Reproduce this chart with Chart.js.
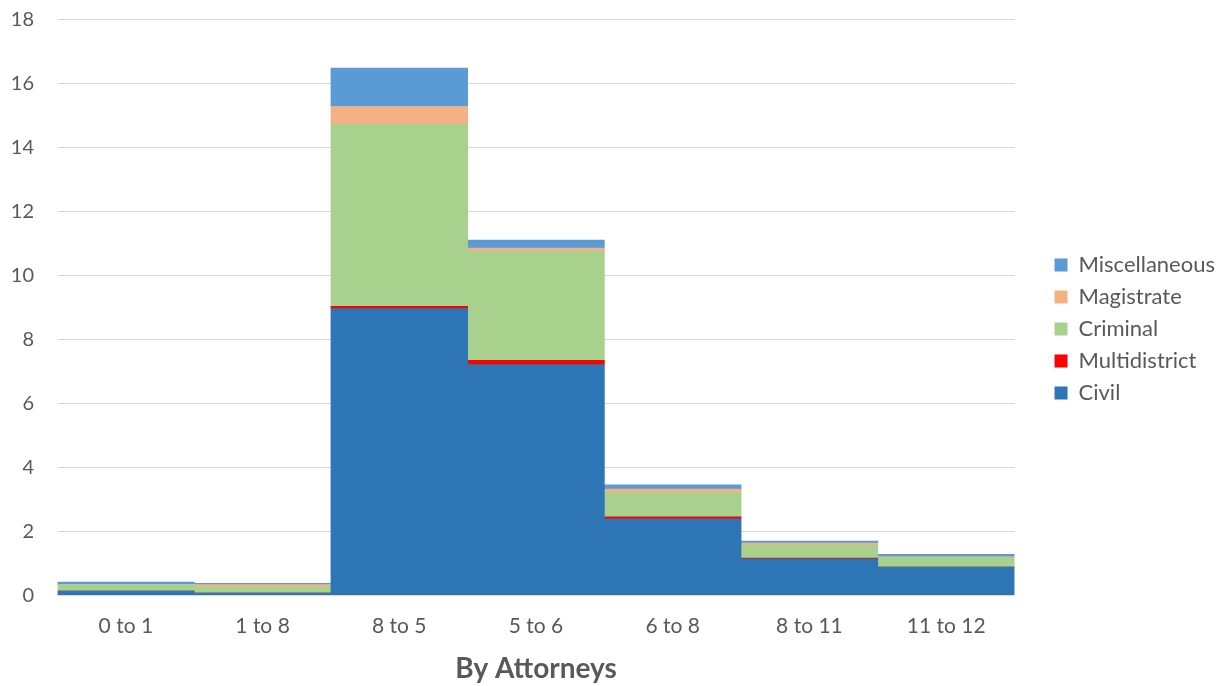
<!DOCTYPE html>
<html>
<head>
<meta charset="utf-8">
<script src="https://cdn.jsdelivr.net/npm/chart.js@4/dist/chart.umd.min.js"></script>
<style>
html,body{margin:0;padding:0;background:#fff;}
#wrap{width:1225px;height:686px;position:relative;}
</style>
</head>
<body>
<div id="wrap"><canvas id="c" width="1225" height="686"></canvas></div>
<script>
const categories = ["0 to 1", "1 to 8", "8 to 5", "5 to 6", "6 to 8", "8 to 11", "11 to 12"];
const civil         = [0.13, 0.07, 8.96, 7.21, 2.39, 1.14, 0.88];
const multidistrict = [0.00, 0.00, 0.07, 0.13, 0.06, 0.02, 0.00];
const criminal      = [0.20, 0.19, 5.69, 3.42, 0.75, 0.41, 0.31];
const magistrate    = [0.01, 0.07, 0.56, 0.09, 0.12, 0.06, 0.01];
const miscellaneous = [0.07, 0.04, 1.20, 0.25, 0.13, 0.06, 0.08];
const yTicks = [0, 2, 4, 6, 8, 10, 12, 14, 16, 18];
const xTitle = "By Attorneys";

const FONT = "Lato, 'Open Sans', sans-serif";
const ds = (label, data, color) => ({label, data, backgroundColor: color, borderWidth: 0, barPercentage: 1, categoryPercentage: 1});

const legendShift = {
  id: 'legendShift',
  afterLayout(chart) {
    const lg = chart.legend;
    if (lg) {
      const shift = 329 - (lg.top + lg.bottom) / 2;
      lg.top += shift; lg.bottom += shift;
    }
  }
};

new Chart(document.getElementById('c'), {
  type: 'bar',
  data: {
    labels: categories,
    datasets: [
      ds('Civil', civil, '#2E75B6'),
      ds('Multidistrict', multidistrict, '#FF0000'),
      ds('Criminal', criminal, '#A9D18E'),
      ds('Magistrate', magistrate, '#F4B183'),
      ds('Miscellaneous', miscellaneous, '#5B9BD5')
    ]
  },
  plugins: [legendShift],
  options: {
    responsive: false,
    animation: false,
    layout: {padding: {top: 19.5, left: 0, right: 0, bottom: 0}},
    plugins: {
      tooltip: {enabled: false},
      legend: {
        position: 'right',
        reverse: true,
        labels: {
          boxWidth: 13, boxHeight: 13, padding: 10,
          color: '#595959',
          font: {family: FONT, size: 22}
        }
      }
    },
    scales: {
      x: {
        stacked: true,
        grid: {display: false, drawTicks: false},
        border: {display: true, color: '#d9d9d9', width: 1},
        ticks: {color: '#595959', font: {family: FONT, size: 21}, padding: 18},
        title: {display: true, text: xTitle, color: '#595959', font: {family: FONT, size: 28, weight: 'bold'}, padding: {top: -4, bottom: 0}}
      },
      y: {
        stacked: true,
        min: 0, max: 18,
        afterBuildTicks: (ax) => { ax.ticks = yTicks.map(v => ({value: v})); },
        afterFit: (s) => { s.width = 57.5; s.paddingTop = 0; s.paddingBottom = 0; },
        grid: {color: '#d9d9d9', drawTicks: false},
        border: {display: false},
        ticks: {color: '#595959', font: {family: FONT, size: 20}, padding: 23.5}
      },
      gap: {
        type: 'linear',
        position: 'right',
        display: true,
        afterFit: (s) => { s.width = 30; s.paddingTop = 0; s.paddingBottom = 0; },
        grid: {display: false, drawTicks: false},
        border: {display: false},
        ticks: {display: false}
      }
    }
  }
});
</script>
</body>
</html>
